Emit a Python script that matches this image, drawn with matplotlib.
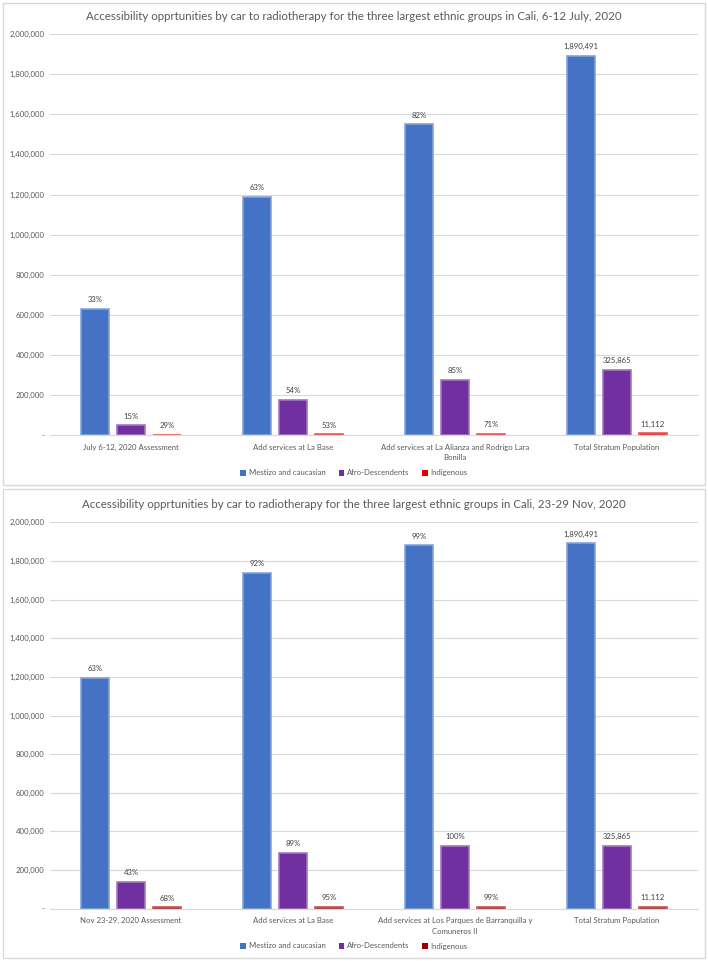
import matplotlib
matplotlib.use("Agg")
import matplotlib.pyplot as plt
from matplotlib.patches import Rectangle, Patch
from matplotlib.ticker import FuncFormatter, MultipleLocator
from matplotlib.colors import to_rgb
import numpy as np

plt.rcParams['font.family'] = ['Lato', 'DejaVu Sans']

series_names = ["Mestizo and caucasian", "Afro-Descendents", "Indigenous"]

titles = [
    "Accessibility opprtunities by car to radiotherapy for the three largest ethnic groups in Cali, 6-12 July, 2020",
    "Accessibility opprtunities by car to radiotherapy for the three largest ethnic groups in Cali, 23-29 Nov, 2020",
]

categories_jul = ["July 6-12, 2020 Assessment", "Add services at La Base",
                  "Add services at La Alianza and Rodrigo Lara\nBonilla", "Total Stratum Population"]
categories_nov = ["Nov 23-29, 2020 Assessment", "Add services at La Base",
                  "Add services at Los Parques de Barranquilla y\nComuneros II", "Total Stratum Population"]

mestizo_jul = [630000, 1190000, 1550000, 1890491]
afro_jul = [48880, 176000, 277000, 325865]
indig_jul = [3222, 5890, 7890, 11112]

mestizo_nov = [1195000, 1740000, 1880000, 1890491]
afro_nov = [140000, 290000, 325500, 325865]
indig_nov = [7556, 10556, 11000, 11112]

blue = "#4472C4"
purple = "#7030A0"
red_jul = "#E00000"
red_nov = "#A00000"
text_col = "#595959"
grid_col = "#D9D9D9"

W, H = 708, 961
fig = plt.figure(figsize=(W / 100, H / 100), dpi=100)

def fx(px):
    return px / W

def fy(py):
    return 1 - py / H

def lighter(c, f=0.35):
    r, g, b = to_rgb(c)
    return (r + (1 - r) * f, g + (1 - g) * f, b + (1 - b) * f)

# panel borders
for (y0, y1) in [(3, 485), (489, 958)]:
    fig.patches.append(Rectangle((fx(3), fy(y1)), fx(702), (y1 - y0) / H,
                                 transform=fig.transFigure, fill=False,
                                 edgecolor=grid_col, linewidth=1.0))

panels = [
    dict(title=titles[0], cats=categories_jul, data=[mestizo_jul, afro_jul, indig_jul],
         colors=[blue, purple, red_jul], top=34, bottom=435.3, title_y=16, legend_y=473),
    dict(title=titles[1], cats=categories_nov, data=[mestizo_nov, afro_nov, indig_nov],
         colors=[blue, purple, red_nov], top=522.3, bottom=908.7, title_y=505, legend_y=946),
]

bw = 0.173
offs = [-0.221, 0.0, 0.221]

for p in panels:
    ax = fig.add_axes([fx(50), fy(p['bottom']), fx(698) - fx(50), (p['bottom'] - p['top']) / H])
    x = np.arange(len(p['cats']))
    for si, (vals, col) in enumerate(zip(p['data'], p['colors'])):
        total = vals[-1]
        bars = ax.bar(x + offs[si], vals, width=bw, color=col, edgecolor=lighter(col),
                      linewidth=1.2, zorder=3, label=series_names[si])
        labels = [f"{round(v / total * 100)}%" for v in vals[:-1]] + [f"{total:,}"]
        for b, lab in zip(bars, labels):
            ax.annotate(lab, (b.get_x() + b.get_width() / 2, b.get_height()),
                        xytext=(0, 4), textcoords="offset points", ha="center", va="bottom",
                        fontsize=5.6, color="#404040")
    ax.set_xlim(-0.5, 3.5)
    ax.set_ylim(0, 2000000)
    ax.yaxis.set_major_locator(MultipleLocator(200000))
    ax.yaxis.set_major_formatter(FuncFormatter(lambda v, pos: "-" if v == 0 else f"{int(v):,}"))
    ax.grid(axis="y", color=grid_col, linewidth=0.8, zorder=0)
    for s in ["top", "right", "left"]:
        ax.spines[s].set_visible(False)
    ax.spines["bottom"].set_color(grid_col)
    ax.spines["bottom"].set_linewidth(0.8)
    ax.tick_params(axis="both", length=0, labelsize=5.6, colors=text_col)
    ax.tick_params(axis="y", pad=4)
    ax.tick_params(axis="x", pad=6)
    ax.set_xticks(x)
    ax.set_xticklabels(p['cats'], fontsize=5.6, color=text_col, linespacing=1.6)
    fig.text(0.5, fy(p['title_y']), p['title'], ha="center", va="center",
             fontsize=8.3, color=text_col)
    handles = [Patch(facecolor=c, label=n) for c, n in zip(p['colors'], series_names)]
    fig.legend(handles=handles, loc="center", bbox_to_anchor=(fx(354), fy(p['legend_y'])),
               ncol=3, frameon=False, fontsize=5.6, handlelength=0.75, handleheight=0.75,
               handletextpad=0.3, columnspacing=1.7, labelcolor=text_col)

fig.savefig("out.png", dpi=100, facecolor="white")
